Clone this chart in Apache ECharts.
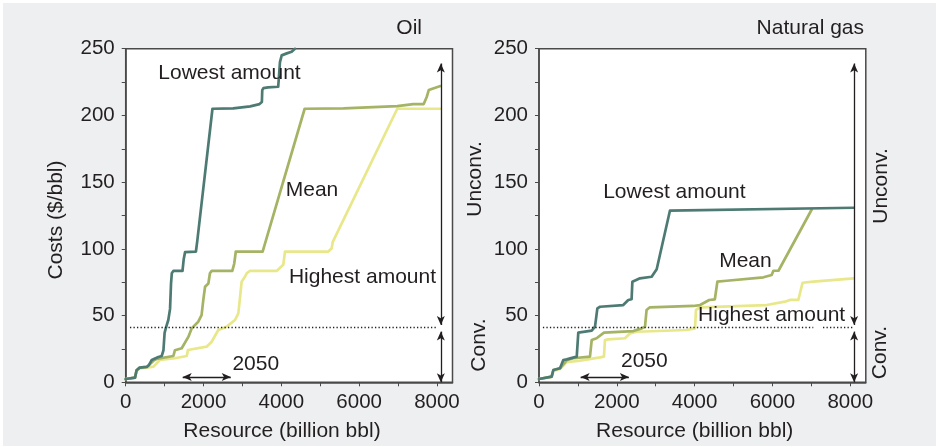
<!DOCTYPE html>
<html>
<head>
<meta charset="utf-8">
<script src="https://cdn.jsdelivr.net/npm/echarts@6.0.0/dist/echarts.min.js"></script>
<style>
  html, body { margin: 0; padding: 0; background: #ffffff; }
  #panel { position: absolute; left: 3px; top: 3px; width: 933px; height: 443px; background: #eeeff1; }
  #main { position: absolute; left: 0; top: 0; width: 938px; height: 447px; }
</style>
</head>
<body>
<div id="panel"></div>
<div id="main"></div>
<script>
// Cumulative supply-cost curves: [resource (billion bbl), cost ($/bbl)]
const oilLowest = [[0,2.5],[240,3.5],[280,9],[360,11],[540,11.5],[600,13],[670,16.7],[840,19],[925,19.7],[970,24],[1000,37],[1035,41],[1095,46.7],[1140,55],[1165,74],[1185,81.7],[1225,83.5],[1460,83.5],[1490,92],[1525,97.5],[1805,98],[1840,106],[2230,205],[2765,205.3],[3200,206.8],[3440,208.5],[3500,210],[3510,219],[3540,220.5],[3660,221],[3920,221.5],[3965,240],[4010,245],[4140,246.5],[4265,247.7],[4350,250]];
const oilMean = [[0,2.5],[240,3.5],[280,9],[360,11],[540,11.5],[710,16],[800,17.5],[1225,19.7],[1265,24],[1440,25.5],[1610,34],[1695,40.4],[1865,45.4],[1950,50.4],[1995,61.7],[2040,71.6],[2125,74],[2165,81.7],[2210,83.5],[2740,83.5],[2790,89],[2830,98],[3520,98],[3580,104],[4600,205],[5600,205.3],[6980,207],[7390,208.5],[7660,208.5],[7740,214],[7790,219],[8090,222]];
const oilHighest = [[0,2.5],[240,3.5],[280,8.5],[360,10.5],[540,11],[710,11.7],[880,16.7],[1265,18],[1570,19.7],[1600,24.2],[2080,26.7],[2210,30.4],[2380,39.2],[2595,41.7],[2810,46.7],[2895,51.7],[2940,64],[2980,75.4],[3065,79.1],[3110,81.7],[3195,83.5],[3880,83.5],[4050,88],[4095,98],[5210,98],[5295,100.4],[5320,105],[6980,205],[8090,205]];

const gasLowest = [[0,2.5],[325,4.2],[370,9.2],[540,10.5],[625,16.7],[710,17.2],[970,19.2],[1010,37.2],[1355,38.7],[1440,41.7],[1500,55.4],[1570,56.6],[2165,57.9],[2295,61.7],[2380,62.2],[2400,75.4],[2595,77.9],[2895,79.1],[3025,84.7],[3365,128.6],[8090,130.8]];
const gasMean = [[0,2.5],[325,4.2],[370,9.2],[540,10.5],[710,16.5],[880,18],[1310,19.2],[1355,31.7],[1480,33],[1670,37.2],[2425,38.4],[2640,40.4],[2725,41.7],[2765,54.2],[2850,56.2],[3965,57.2],[4140,57.9],[4375,61.7],[4520,62.2],[4585,75.4],[4825,76.1],[5770,78.7],[5980,80.4],[6025,83.6],[6155,83.6],[7010,129.5]];
const gasHighest = [[0,2.5],[325,4],[370,8.5],[540,10],[710,15],[1055,16.2],[1570,18.7],[1670,19.2],[1695,31.7],[1780,32.2],[2210,33],[2340,36.7],[2510,37.9],[3795,39.2],[4010,40.4],[4035,54.2],[4140,56.2],[5850,57.9],[6320,60.4],[6450,61.7],[6665,61.7],[6775,74.6],[7050,75.4],[8090,77.9]];

// Axis ticks
const xTickValues = [0,1000,2000,3000,4000,5000,6000,7000,8000];
const xLabelValues = [0,2000,4000,6000,8000];

// Conventional / unconventional split and the 2050 range
const convCutoff = 41.6;
const oilCutoffSpan = [[110, 7995]];
const gasCutoffSpan = [[100, 7050], [7300, 8060]];
const rangeArrowX = 8100;
const unconvRange = [43, 239];
const convRange = [0, 38];
const oil2050 = [1465, 2700];
const gas2050 = [1070, 2310];
const arrow2050Y = 4;

// Curve annotations: [x, y, text]
const oilNotes = [[2668, 231.7, 'Lowest amount'], [4788, 144, 'Mean'], [6086, 79.1, 'Highest amount'], [3344, 13.7, '2050']];
const gasNotes = [[3480, 142.8, 'Lowest amount'], [5307, 90.4, 'Mean'], [5980, 50.4, 'Highest amount'], [2707, 16, '2050']];

const COLORS = { lowest: '#4d7b74', mean: '#a4b464', highest: '#e8e88a' };
const INK = '#231f20';
const FONT = 'Liberation Sans, Arial, Helvetica, sans-serif';

const chart = echarts.init(document.getElementById('main'), null, { renderer: 'canvas' });

function xAxisFor(idx) {
  return {
    type: 'value', gridIndex: idx, min: 0, max: 8400,
    axisLine: { show: true, onZero: false, lineStyle: { color: '#4a4a4a', width: 1.5 } },
    axisTick: { show: true, inside: false, length: 4, customValues: xTickValues, lineStyle: { color: '#4a4a4a', width: 1 } },
    axisLabel: { customValues: xLabelValues, margin: 10, color: INK, fontSize: 20.5, fontFamily: FONT,
      formatter: v => String(v) },
    splitLine: { show: false }
  };
}
function yAxisFor(idx) {
  return {
    type: 'value', gridIndex: idx, min: 0, max: 250, interval: 25,
    axisLine: { show: true, onZero: false, lineStyle: { color: '#4a4a4a', width: 1.5 } },
    axisTick: { show: true, inside: false, length: 4, lineStyle: { color: '#4a4a4a', width: 1 } },
    axisLabel: { margin: 11, color: INK, fontSize: 20.5, fontFamily: FONT,
      formatter: v => (v % 50 === 0 ? String(v) : '') },
    splitLine: { show: false }
  };
}

function curve(name, data, color, idx, extra) {
  return Object.assign({
    name, type: 'line', xAxisIndex: idx, yAxisIndex: idx, data,
    showSymbol: false, symbol: 'none', clip: true, silent: true,
    lineStyle: { color, width: 2.7, join: 'round', cap: 'round' },
    animation: false
  }, extra || {});
}

function annotations(notes, spans, range2050) {
  const arrowStyle = { color: '#231f20', width: 1.3, type: 'solid' };
  const lines = [];
  spans.forEach(s => lines.push([
    { coord: [s[0], convCutoff], symbol: 'none', lineStyle: { color: '#222', width: 1.3, type: [1.3, 2.2] } },
    { coord: [s[1], convCutoff], symbol: 'none' }
  ]));
  lines.push([
    { coord: [rangeArrowX, unconvRange[0]], symbol: 'arrow', lineStyle: arrowStyle },
    { coord: [rangeArrowX, unconvRange[1]], symbol: 'arrow' }
  ]);
  lines.push([
    { coord: [rangeArrowX, convRange[0]], symbol: 'arrow', lineStyle: arrowStyle },
    { coord: [rangeArrowX, convRange[1]], symbol: 'arrow' }
  ]);
  lines.push([
    { coord: [range2050[0], arrow2050Y], symbol: 'arrow', lineStyle: arrowStyle },
    { coord: [range2050[1], arrow2050Y], symbol: 'arrow' }
  ]);
  return {
    markLine: {
      silent: true, animation: false, symbolSize: [6, 9],
      label: { show: false },
      data: lines
    },
    markPoint: {
      silent: true, animation: false,
      data: notes.map(n => ({
        coord: [n[0], n[1]], symbol: 'circle', symbolSize: 1,
        itemStyle: { color: 'rgba(0,0,0,0)' },
        label: { show: true, position: 'inside', formatter: n[2], color: INK,
          fontSize: 21, fontFamily: FONT }
      }))
    }
  };
}

function vText(x, y, text) {
  return { type: 'text', x, y, rotation: Math.PI / 2, silent: true,
    style: { x: 0, y: 0, text, fill: INK, font: '21px ' + FONT, textAlign: 'center', textVerticalAlign: 'middle' } };
}
function hText(x, y, text, align) {
  return { type: 'text', x, y, silent: true,
    style: { x: 0, y: 0, text, fill: INK, font: '21px ' + FONT, textAlign: align || 'center', textVerticalAlign: 'middle' } };
}

chart.setOption({
  backgroundColor: 'transparent',
  animation: false,
  grid: [
    { left: 125.7, top: 48.7, width: 326.8, height: 333.6, show: true, backgroundColor: '#ffffff', borderColor: '#4a4a4a', borderWidth: 1.5 },
    { left: 539, top: 48.7, width: 326.8, height: 333.6, show: true, backgroundColor: '#ffffff', borderColor: '#4a4a4a', borderWidth: 1.5 }
  ],
  xAxis: [xAxisFor(0), xAxisFor(1)],
  yAxis: [yAxisFor(0), yAxisFor(1)],
  series: [
    curve('Highest amount', oilHighest, COLORS.highest, 0),
    curve('Mean', oilMean, COLORS.mean, 0),
    curve('Lowest amount', oilLowest, COLORS.lowest, 0, annotations(oilNotes, oilCutoffSpan, oil2050)),
    curve('Highest amount', gasHighest, COLORS.highest, 1),
    curve('Mean', gasMean, COLORS.mean, 1),
    curve('Lowest amount', gasLowest, COLORS.lowest, 1, annotations(gasNotes, gasCutoffSpan, gas2050))
  ],
  graphic: [
    hText(422, 28, 'Oil', 'right'),
    hText(864, 28, 'Natural gas', 'right'),
    vText(56.7, 220, 'Costs ($/bbl)'),
    hText(282, 431.7, 'Resource (billion bbl)'),
    hText(694.7, 431.7, 'Resource (billion bbl)'),
    vText(475, 179, 'Unconv.'),
    vText(479, 345, 'Conv.'),
    vText(881.7, 186, 'Unconv.'),
    vText(880.7, 352.5, 'Conv.')
  ]
});
</script>
</body>
</html>
